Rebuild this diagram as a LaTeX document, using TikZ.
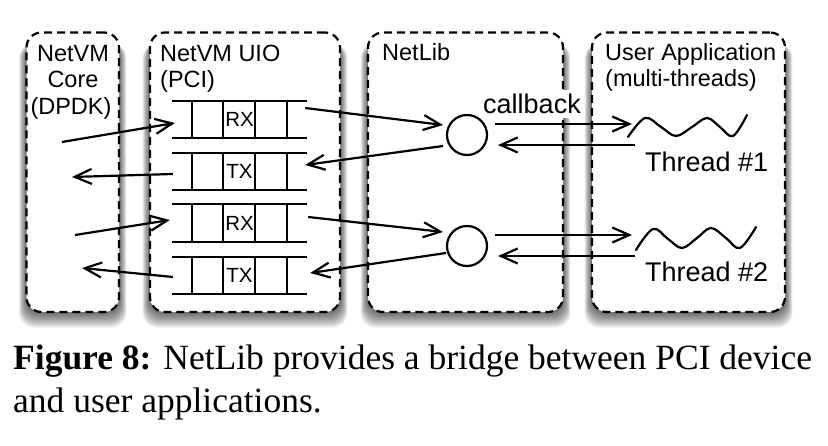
\documentclass[tikz,border=0pt]{standalone}
\usepackage{fontspec}
\setmainfont{Liberation Sans}
\newfontfamily\capfont{Liberation Serif}
\usetikzlibrary{arrows.meta,calc,backgrounds}
\begin{document}
\begin{tikzpicture}[x=1pt,y=-1pt,
  panel/.style={draw, line width=2.2pt, dash pattern=on 8pt off 5pt, rounded corners=15pt, fill=white, inner sep=0pt},
  queue/.style={minimum width=135pt, minimum height=37pt, inner sep=0pt, font=\fontsize{20.5}{22}\selectfont},
  ln/.style={line width=2.2pt},
  arr/.style={line width=2.2pt, -{Straight Barb[length=17pt,width=15pt,line width=2.2pt]}},
  ttl/.style={font=\fontsize{23.5}{26}\selectfont, inner sep=0pt},
  big/.style={font=\fontsize{27}{30}\selectfont, inner sep=0pt},
  captxt/.style={font=\capfont\fontsize{35.5}{40}\selectfont, inner sep=0pt},
  ring/.style={circle, draw, line width=2.2pt, minimum size=40pt, inner sep=0pt}
]
\useasboundingbox (0,0) rectangle (828,446);
% panels
\node[panel, minimum width=92.5pt, minimum height=279.5pt] (p1) at (72.75,172.25) {};
\node[panel, minimum width=190pt, minimum height=279.5pt] (p2) at (245,172.25) {};
\node[panel, minimum width=195pt, minimum height=279.5pt] (p3) at (465.5,172.25) {};
\node[panel, minimum width=193pt, minimum height=279.5pt] (p4) at (688.5,172.25) {};
\begin{scope}[on background layer]
  \fill[white] (0,0) rectangle (828,446);
  \foreach \p in {p1,p2,p3,p4}{
    \foreach \i in {0,...,9}{
      \fill[black, opacity=0.07, rounded corners=15pt]
        ($(\p.north west)+(-\i*0.7,12)$) rectangle ($(\p.south east)+(\i*0.7,1+\i*1.5)$);
    }
  }
\end{scope}
% titles
\node[ttl, anchor=base] (t1a) at (73,61.5) {NetVM};
\node[ttl, anchor=base] (t1b) at (73,88) {Core};
\node[ttl, anchor=base] (t1c) at (71,114.5) {(DPDK)};
\node[ttl, anchor=base west] (t2a) at (160,61.5) {NetVM UIO};
\node[ttl, anchor=base west] (t2b) at (160,88) {(PCI)};
\node[ttl, anchor=base west] (t3a) at (382,60.5) {NetLib};
\node[ttl, anchor=base west] (t4a) at (605,60.5) {User Application};
\node[ttl, anchor=base west] (t4b) at (605,87) {(multi-threads)};
% queues
\node[queue] (rx1) at (239.5,119.5) {RX};
\node[queue] (tx1) at (239.5,171.5) {TX};
\node[queue] (rx2) at (239.5,223) {RX};
\node[queue] (tx2) at (239.5,275.5) {TX};
\foreach \q in {rx1,tx1,rx2,tx2}{
  \draw[ln] (\q.north west) -- (\q.north east);
  \draw[ln] (\q.south west) -- (\q.south east);
  \foreach \dx in {20,51,83,115}{
    \draw[ln] ($(\q.north west)+(\dx,0)$) -- ($(\q.south west)+(\dx,0)$);
  }
}
% NetLib circles
\node[ring] (c1) at (467,135) {};
\node[ring] (c2) at (467,246) {};
% threads (waves)
\coordinate (w1) at (628,137);
\coordinate (w2) at (636,250);
\draw[ln, line cap=round] plot[smooth, tension=0.6] coordinates {(w1) (645,118) (661,127) (676,136) (692,127) (707,118) (720,127) (733,136) (747,115)};
\draw[ln, line cap=round] plot[smooth, tension=0.6] coordinates {(w2) (653,229) (668,239) (682,248) (697,238) (711,228) (726,238) (740,248) (756,227)};
\node[big, anchor=base west] (th1) at (645,171.5) {Thread \#1};
\node[big, anchor=base west] (th2) at (645,281.5) {Thread \#2};
% core side endpoints
\coordinate (a1s) at (62,142);
\coordinate (a2e) at (72,177);
\coordinate (a3s) at (75,235);
\coordinate (a4e) at (82,268);
\draw[arr] (a1s) -- ($(rx1.west)+(3,3.5)$);
\draw[arr] ($(tx1.west)+(1,2.5)$) -- (a2e);
\draw[arr] (a3s) -- ($(rx2.west)+(-2,-3)$);
\draw[arr] ($(tx2.west)+(1,1.5)$) -- (a4e);
% UIO <-> NetLib
\draw[arr] ($(rx1.east)+(-2,-11.5)$) -- ($(c1)+(-24,-10)$);
\draw[arr] ($(c1)+(-24,11)$) -- ($(tx1.east)+(-2,-6.5)$);
\draw[arr] ($(rx2.east)+(1,-6)$) -- ($(c2)+(-24,-14)$);
\draw[arr] ($(c2)+(-21,7)$) -- ($(tx2.east)+(3,-2.5)$);
% NetLib <-> threads
\draw[arr] ($(c1)+(28,-11)$) -- ($(w1)+(4,-13)$);
\draw[arr] ($(w1)+(7,8)$) -- ($(c1)+(31,10)$);
\draw[arr] ($(c2)+(28,-11)$) -- ($(w2)+(-4,-15)$);
\draw[arr] ($(w2)+(-1,6)$) -- ($(c2)+(31,10)$);
% callback label
\node[big, anchor=base, fill=white, inner xsep=1pt, inner ysep=4pt] (cb) at (532,114) {callback};
% caption
\node[captxt, anchor=base west] (cap1) at (13,369.5) {\textbf{Figure 8:} NetLib provides a bridge between PCI device};
\node[captxt, anchor=base west] (cap2) at (13,413) {and user applications.};
\end{tikzpicture}
\end{document}
